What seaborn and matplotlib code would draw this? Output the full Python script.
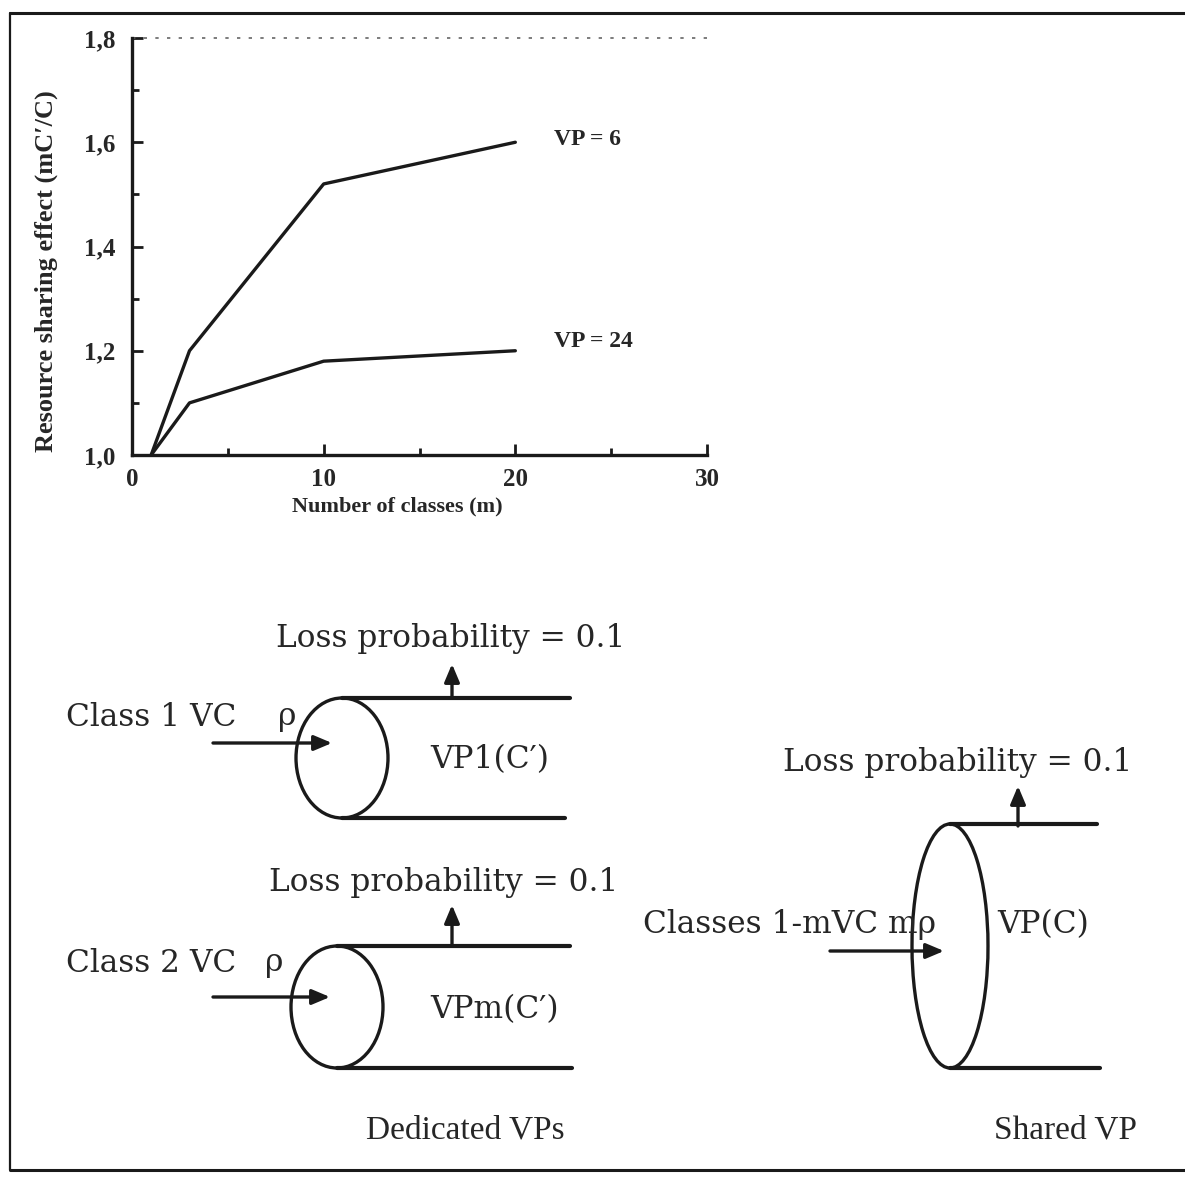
import numpy as np
import pandas as pd
import matplotlib
matplotlib.use("Agg")
import matplotlib.pyplot as plt
from matplotlib.patches import Ellipse
from matplotlib.ticker import MultipleLocator, FixedLocator
import seaborn as sns

# Daten
classes_m = [1, 3, 10, 20]
effect_vp6 = [1.0, 1.2, 1.52, 1.6]
effect_vp24 = [1.0, 1.1, 1.18, 1.2]
series_names = ["VP = 6", "VP = 24"]
x_ticks = [0, 10, 20, 30]
y_ticks = [1.0, 1.2, 1.4, 1.6, 1.8]
y_tick_labels = ["1,0", "1,2", "1,4", "1,6", "1,8"]

sns.set_theme(style="white")
plt.rcParams.update({
    "font.family": ["Liberation Serif", "DejaVu Serif"],
})

df = pd.DataFrame({
    "m": classes_m * 2,
    "effect": effect_vp6 + effect_vp24,
    "series": [series_names[0]] * len(classes_m) + [series_names[1]] * len(classes_m),
})

fig = plt.figure(figsize=(11.85, 11.79), dpi=100)

# Zeichenebene für Rahmen und Diagramm (Pixelkoordinaten)
dax = fig.add_axes([0, 0, 1, 1], zorder=0)
dax.set_xlim(0, 1185)
dax.set_ylim(1179, 0)
dax.axis("off")
dax.patch.set_alpha(0)

# Rahmen
k = "#1a1a1a"
dax.plot([10, 1185], [13, 13], color=k, lw=2.2)
dax.plot([10, 10], [13, 1170], color=k, lw=1.6)
dax.plot([10, 1185], [1170, 1170], color=k, lw=2.2)

# Liniendiagramm
ax = fig.add_axes([132 / 1185, 1 - 455 / 1179, (707 - 132) / 1185, 417 / 1179], zorder=2)
ax.patch.set_alpha(0)
sns.lineplot(data=df, x="m", y="effect", hue="series", palette=["#1a1a1a", "#1a1a1a"],
             linewidth=2.4, legend=False, ax=ax)
ax.set_xlim(0, 30)
ax.set_ylim(1.0, 1.8)
ax.xaxis.set_major_locator(FixedLocator(x_ticks))
ax.xaxis.set_minor_locator(MultipleLocator(5))
ax.yaxis.set_major_locator(FixedLocator(y_ticks))
ax.yaxis.set_minor_locator(MultipleLocator(0.1))
ax.set_yticklabels(y_tick_labels)
ax.tick_params(which="both", direction="in", color=k, width=2, labelsize=18,
               bottom=True, left=True)
ax.tick_params(axis="y", pad=12)
ax.tick_params(axis="x", pad=9)
ax.tick_params(which="major", length=8)
ax.tick_params(which="minor", length=5)
for lab in ax.get_xticklabels() + ax.get_yticklabels():
    lab.set_fontweight("bold")
for s in ["top", "right"]:
    ax.spines[s].set_visible(False)
for s in ["left", "bottom"]:
    ax.spines[s].set_color(k)
    ax.spines[s].set_linewidth(2.4)
ax.axhline(1.8, color="#666666", lw=1.2, ls=(0, (2, 5)), clip_on=False)
ax.set_xlabel("Number of classes (m)", fontsize=16, fontweight="bold")
ax.set_ylabel("Resource sharing effect (mC\u2032/C)", fontsize=19, fontweight="bold")
ax.xaxis.set_label_coords(0.462, -0.10)
ax.yaxis.set_label_coords(-0.128, 0.44)
ax.text(22, effect_vp6[-1] + 0.005, series_names[0], fontsize=17, fontweight="bold", va="center")
ax.text(22, effect_vp24[-1] + 0.018, series_names[1], fontsize=17, fontweight="bold", va="center")

# Blockdiagramm
fs = 22.5
serif_wide = ["DejaVu Serif"]
arrow = dict(arrowstyle="-|>,head_length=0.9,head_width=0.38", color=k, lw=2.4,
             shrinkA=0, shrinkB=0)


def pipe(cx, cy, w, h, x_end_top, x_end_bot):
    dax.add_patch(Ellipse((cx, cy), w, h, fill=False, ec=k, lw=2.4))
    dax.plot([cx, x_end_top], [cy - h / 2, cy - h / 2], color=k, lw=3)
    dax.plot([cx, x_end_bot], [cy + h / 2, cy + h / 2], color=k, lw=3)


# Dedizierte VP 1
dax.text(451, 638, "Loss probability = 0.1", fontsize=fs, family=serif_wide, ha="center", va="center")
dax.annotate("", xy=(452, 664), xytext=(452, 698), arrowprops=arrow)
pipe(342, 758, 92, 120, 570, 565)
dax.text(66, 718, "Class 1 VC", fontsize=fs, family=serif_wide, va="center")
dax.text(278, 716, "\u03c1", fontsize=fs, family=serif_wide, va="center")
dax.annotate("", xy=(332, 743), xytext=(213, 743), arrowprops=arrow)
dax.text(430, 760, "VP1(C\u2032)", fontsize=fs, family=serif_wide, va="center")

# Dedizierte VP m
dax.text(444, 883, "Loss probability = 0.1", fontsize=fs, family=serif_wide, ha="center", va="center")
dax.annotate("", xy=(452, 905), xytext=(452, 945), arrowprops=arrow)
pipe(337, 1007, 92, 122, 570, 572)
dax.text(66, 963, "Class 2 VC", fontsize=fs, family=serif_wide, va="center")
dax.text(265, 962, "\u03c1", fontsize=fs, family=serif_wide, va="center")
dax.annotate("", xy=(330, 997), xytext=(213, 997), arrowprops=arrow)
dax.text(430, 1010, "VPm(C\u2032)", fontsize=fs, family=serif_wide, va="center")
dax.text(465, 1130, "Dedicated VPs", fontsize=24, ha="center", va="center")

# Gemeinsame VP
dax.text(958, 762, "Loss probability = 0.1", fontsize=fs, family=serif_wide, ha="center", va="center")
dax.annotate("", xy=(1018, 786), xytext=(1018, 826), arrowprops=arrow)
pipe(950, 946, 76, 244, 1097, 1100)
dax.text(643, 925, "Classes 1-mVC m\u03c1", fontsize=fs, family=serif_wide, va="center")
dax.annotate("", xy=(944, 951), xytext=(830, 951), arrowprops=arrow)
dax.text(997, 925, "VP(C)", fontsize=fs, family=serif_wide, va="center")
dax.text(1065, 1130, "Shared VP", fontsize=24, ha="center", va="center")

fig.savefig("out.png", dpi=100, facecolor="white")
